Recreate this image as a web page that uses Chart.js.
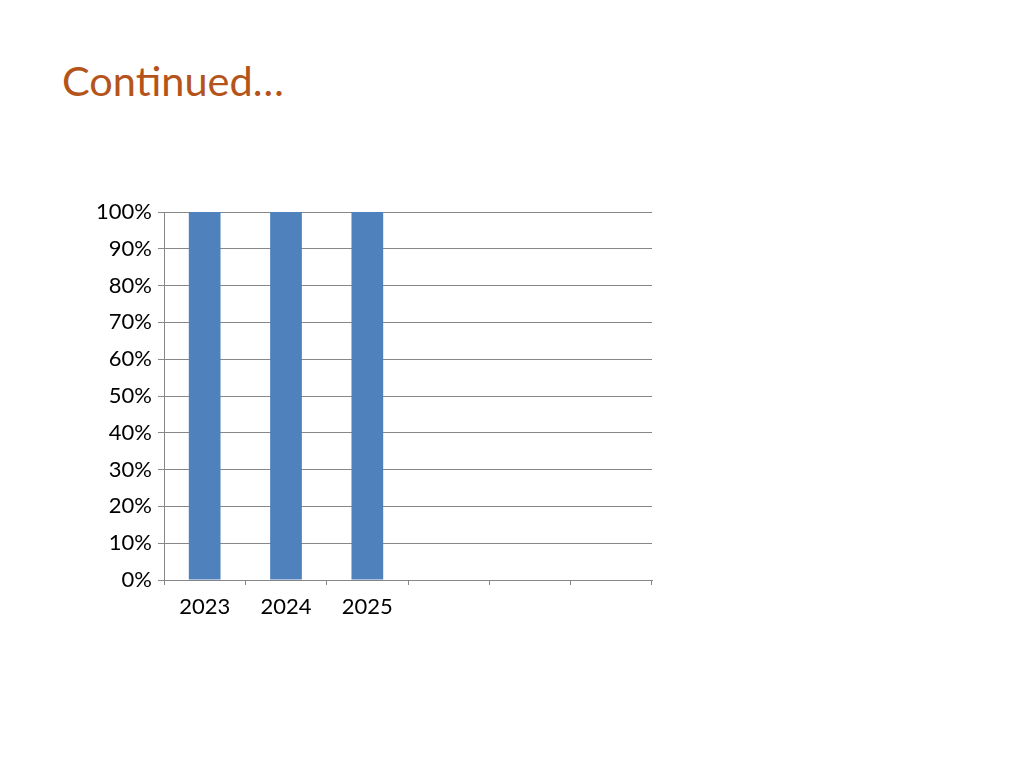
<!DOCTYPE html>
<html>
<head>
<meta charset="utf-8">
<script src="https://cdn.jsdelivr.net/npm/chart.js@4"></script>
<style>
  html, body { margin: 0; padding: 0; background: #fff; }
  #wrap { position: relative; width: 1024px; height: 768px; overflow: hidden; }
  #title { position: absolute; left: 62px; top: 55px; font-family: Lato, sans-serif; font-size: 41.5px; color: #B4541A; white-space: nowrap; }
  #chart { position: absolute; left: 0; top: 0; }
</style>
</head>
<body>
<div id="wrap">
  <div id="title">Continued…</div>
  <canvas id="chart" width="1024" height="768"></canvas>
</div>
<script>
const years = ['2023', '2024', '2025', '', '', ''];
const shares = [100, 100, 100, null, null, null];
const yMax = 100;
const yStep = 10;

const axisGrey = '#878787';
const tickFont = { family: 'Lato, sans-serif', size: 22 };

new Chart(document.getElementById('chart'), {
    type: 'bar',
    data: {
        labels: years,
        datasets: [{ data: shares, backgroundColor: '#4F81BD', barPercentage: 0.39, categoryPercentage: 1 }]
    },
    options: {
        responsive: false,
        animation: false,
        layout: { padding: { left: 0, top: 212, right: 372, bottom: 0 } },
        plugins: { legend: { display: false }, tooltip: { enabled: false } },
        scales: {
            x: {
                grid: { drawOnChartArea: false, drawTicks: true, tickLength: 5, color: axisGrey },
                border: { display: true, color: axisGrey, width: 1 },
                ticks: { color: '#000', font: tickFont, padding: 9 },
                afterFit: (s) => { s.height = 188; }
            },
            y: {
                min: 0, max: yMax,
                grid: { color: axisGrey, tickLength: 6 },
                border: { display: true, color: axisGrey, width: 1 },
                ticks: { stepSize: yStep, color: '#000', font: tickFont, padding: 6, callback: (v) => v + '%' },
                afterFit: (s) => { s.width = 164; }
            }
        }
    }
});
</script>
</body>
</html>
